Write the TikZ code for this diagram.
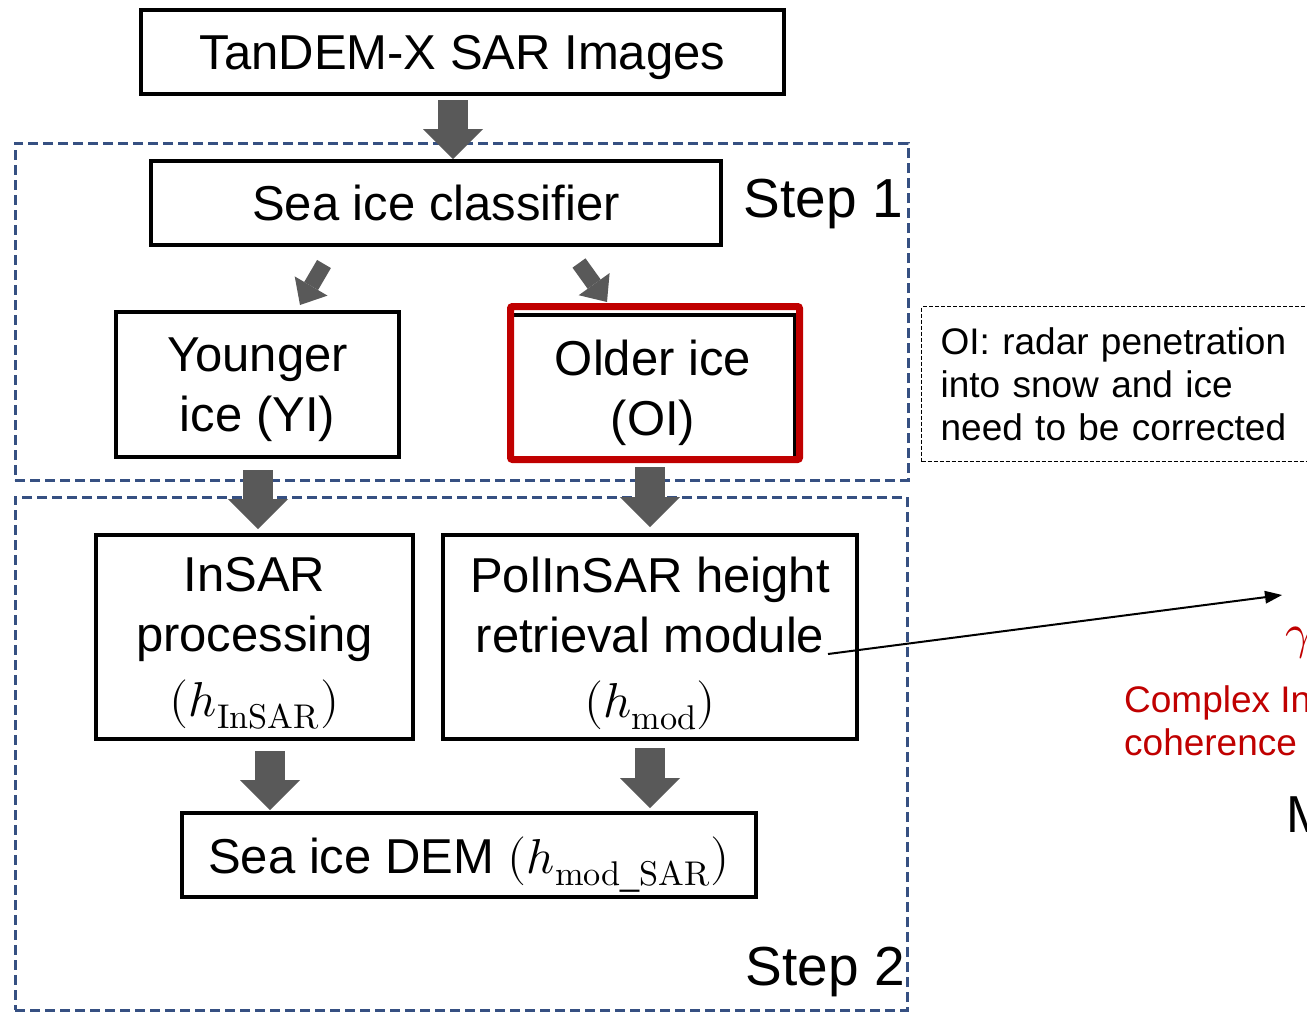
\documentclass[tikz,border=0pt]{standalone}
\usepackage{unicode-math}
\setmainfont{Liberation Sans}
\usetikzlibrary{arrows.meta}
\definecolor{stepblue}{RGB}{54,80,130}
\definecolor{arrowgray}{RGB}{89,89,89}
\definecolor{oired}{RGB}{192,0,0}
\tikzset{
  box/.style={draw=black, line width=4pt, rectangle, align=center,
    font=\fontsize{49}{60}\selectfont, inner sep=0pt, text depth=0pt},
  redframe/.style={draw=oired, line width=7pt, rectangle, rounded corners=2pt},
  stepframe/.style={draw=stepblue, line width=3pt, dash pattern=on 10pt off 5pt,
    rectangle, inner sep=0pt},
  bigarrow/.style={draw=arrowgray, line width=30pt,
    -{Triangle[length=30pt,width=60pt,line width=0pt]}},
  smallarrow/.style={draw=arrowgray, line width=16pt,
    -{Triangle[length=22pt,width=38pt,line width=0pt]}},
  thinarrow/.style={draw=black, line width=2pt,
    -{Triangle[length=17pt,width=13pt,line width=0pt]}},
  steplabel/.style={font=\fontsize{55}{60}\selectfont, inner sep=0pt},
  notebox/.style={draw=black, line width=1.2pt, dash pattern=on 4pt off 2pt,
    align=left, font=\fontsize{37}{43}\selectfont, rectangle},
  redtext/.style={text=oired, font=\fontsize{37}{43}\selectfont, align=left, inner sep=0pt},
}
\begin{document}
\begin{tikzpicture}[x=1pt,y=1pt]
\useasboundingbox (0,0) rectangle (1307,-1013);
\clip (0,0) rectangle (1307,-1013);
\fill[white] (0,0) rectangle (1307,-1013);

% step frames
\node[stepframe, minimum width=893, minimum height=337] (stepone) at (461.5,-311.5) {};
\node[stepframe, minimum width=892, minimum height=513] (steptwo) at (461,-753.5) {};
\node[steplabel, anchor=base east] (steponelabel) at (903,-217) {Step 1};
\node[steplabel, anchor=base east] (steptwolabel) at (905,-985) {Step 2};

% boxes
\node[box, minimum width=643, minimum height=84] (src) at (462.5,-52) {TanDEM-X SAR Images};
\node[box, minimum width=570, minimum height=84] (cls) at (436,-203) {Sea ice classifier};
\node[box, minimum width=283, minimum height=145] (yi) at (257.5,-384.5) {Younger\\ice (YI)};
\node[box, minimum width=284, minimum height=145] (oi) at (653,-387.5) {Older ice\\(OI)};
\draw[redframe] ([shift={(1.5,6.5)}]oi.north west) rectangle ([shift={(2.5,2.5)}]oi.south east);
\node[box, minimum width=317, minimum height=204] (insar) at (254.5,-637)
  {InSAR\\processing\\[5pt]$(h_{\symup{InSAR}})$};
\node[box, minimum width=414, minimum height=204] (pol) at (650,-637)
  {PolInSAR height\\retrieval module\\[5pt]$(h_{\symup{mod}})$};
\node[box, minimum width=574, minimum height=84] (dem) at (469,-855)
  {Sea ice DEM $(h_{\symup{mod\_SAR}})$};

% note
\node[notebox, anchor=north west, text width=430, inner xsep=19, inner ysep=0pt,
  minimum height=155] (note) at (921,-306)
  {OI: radar penetration\\into snow and ice\\need to be corrected};

% right-hand cut texts
\coordinate (gam) at (1282,-595);
\node[inner sep=0pt, anchor=base west, text=oired, font=\fontsize{49}{60}\selectfont]
  (gamma) at (1285,-648) {$\gamma$};
\node[redtext, anchor=north west] (coh) at (1124,-685) {Complex In\\coherence};
\node[inner sep=0pt, anchor=base west, font=\fontsize{52}{60}\selectfont] (mlabel) at (1286,-832) {M};

% block arrows
\draw[bigarrow] ([xshift=-9.5pt,yshift=-4pt]src.south) -- ([xshift=17pt]cls.north);
\draw[smallarrow] ([shift={(-112,-17)}]cls.south) -- ([shift={(42.5,5)}]yi.north);
\draw[smallarrow] ([shift={(143,-16)}]cls.south) -- ([shift={(-46,11)}]oi.north);
\draw[bigarrow] ([shift={(0.5,-11)}]yi.south) -- ([shift={(3.5,4)}]insar.north);
\draw[bigarrow] ([shift={(-3,-5)}]oi.south) -- ([shift={(0,6)}]pol.north);
\draw[bigarrow] ([shift={(15.5,-10)}]insar.south) -- ([shift={(-199,1)}]dem.north);
\draw[bigarrow] ([shift={(0,-7)}]pol.south) -- ([shift={(181,3)}]dem.north);

% long arrow
\draw[thinarrow] ([shift={(-31,-17)}]pol.east) -- (gam);
\end{tikzpicture}
\end{document}
